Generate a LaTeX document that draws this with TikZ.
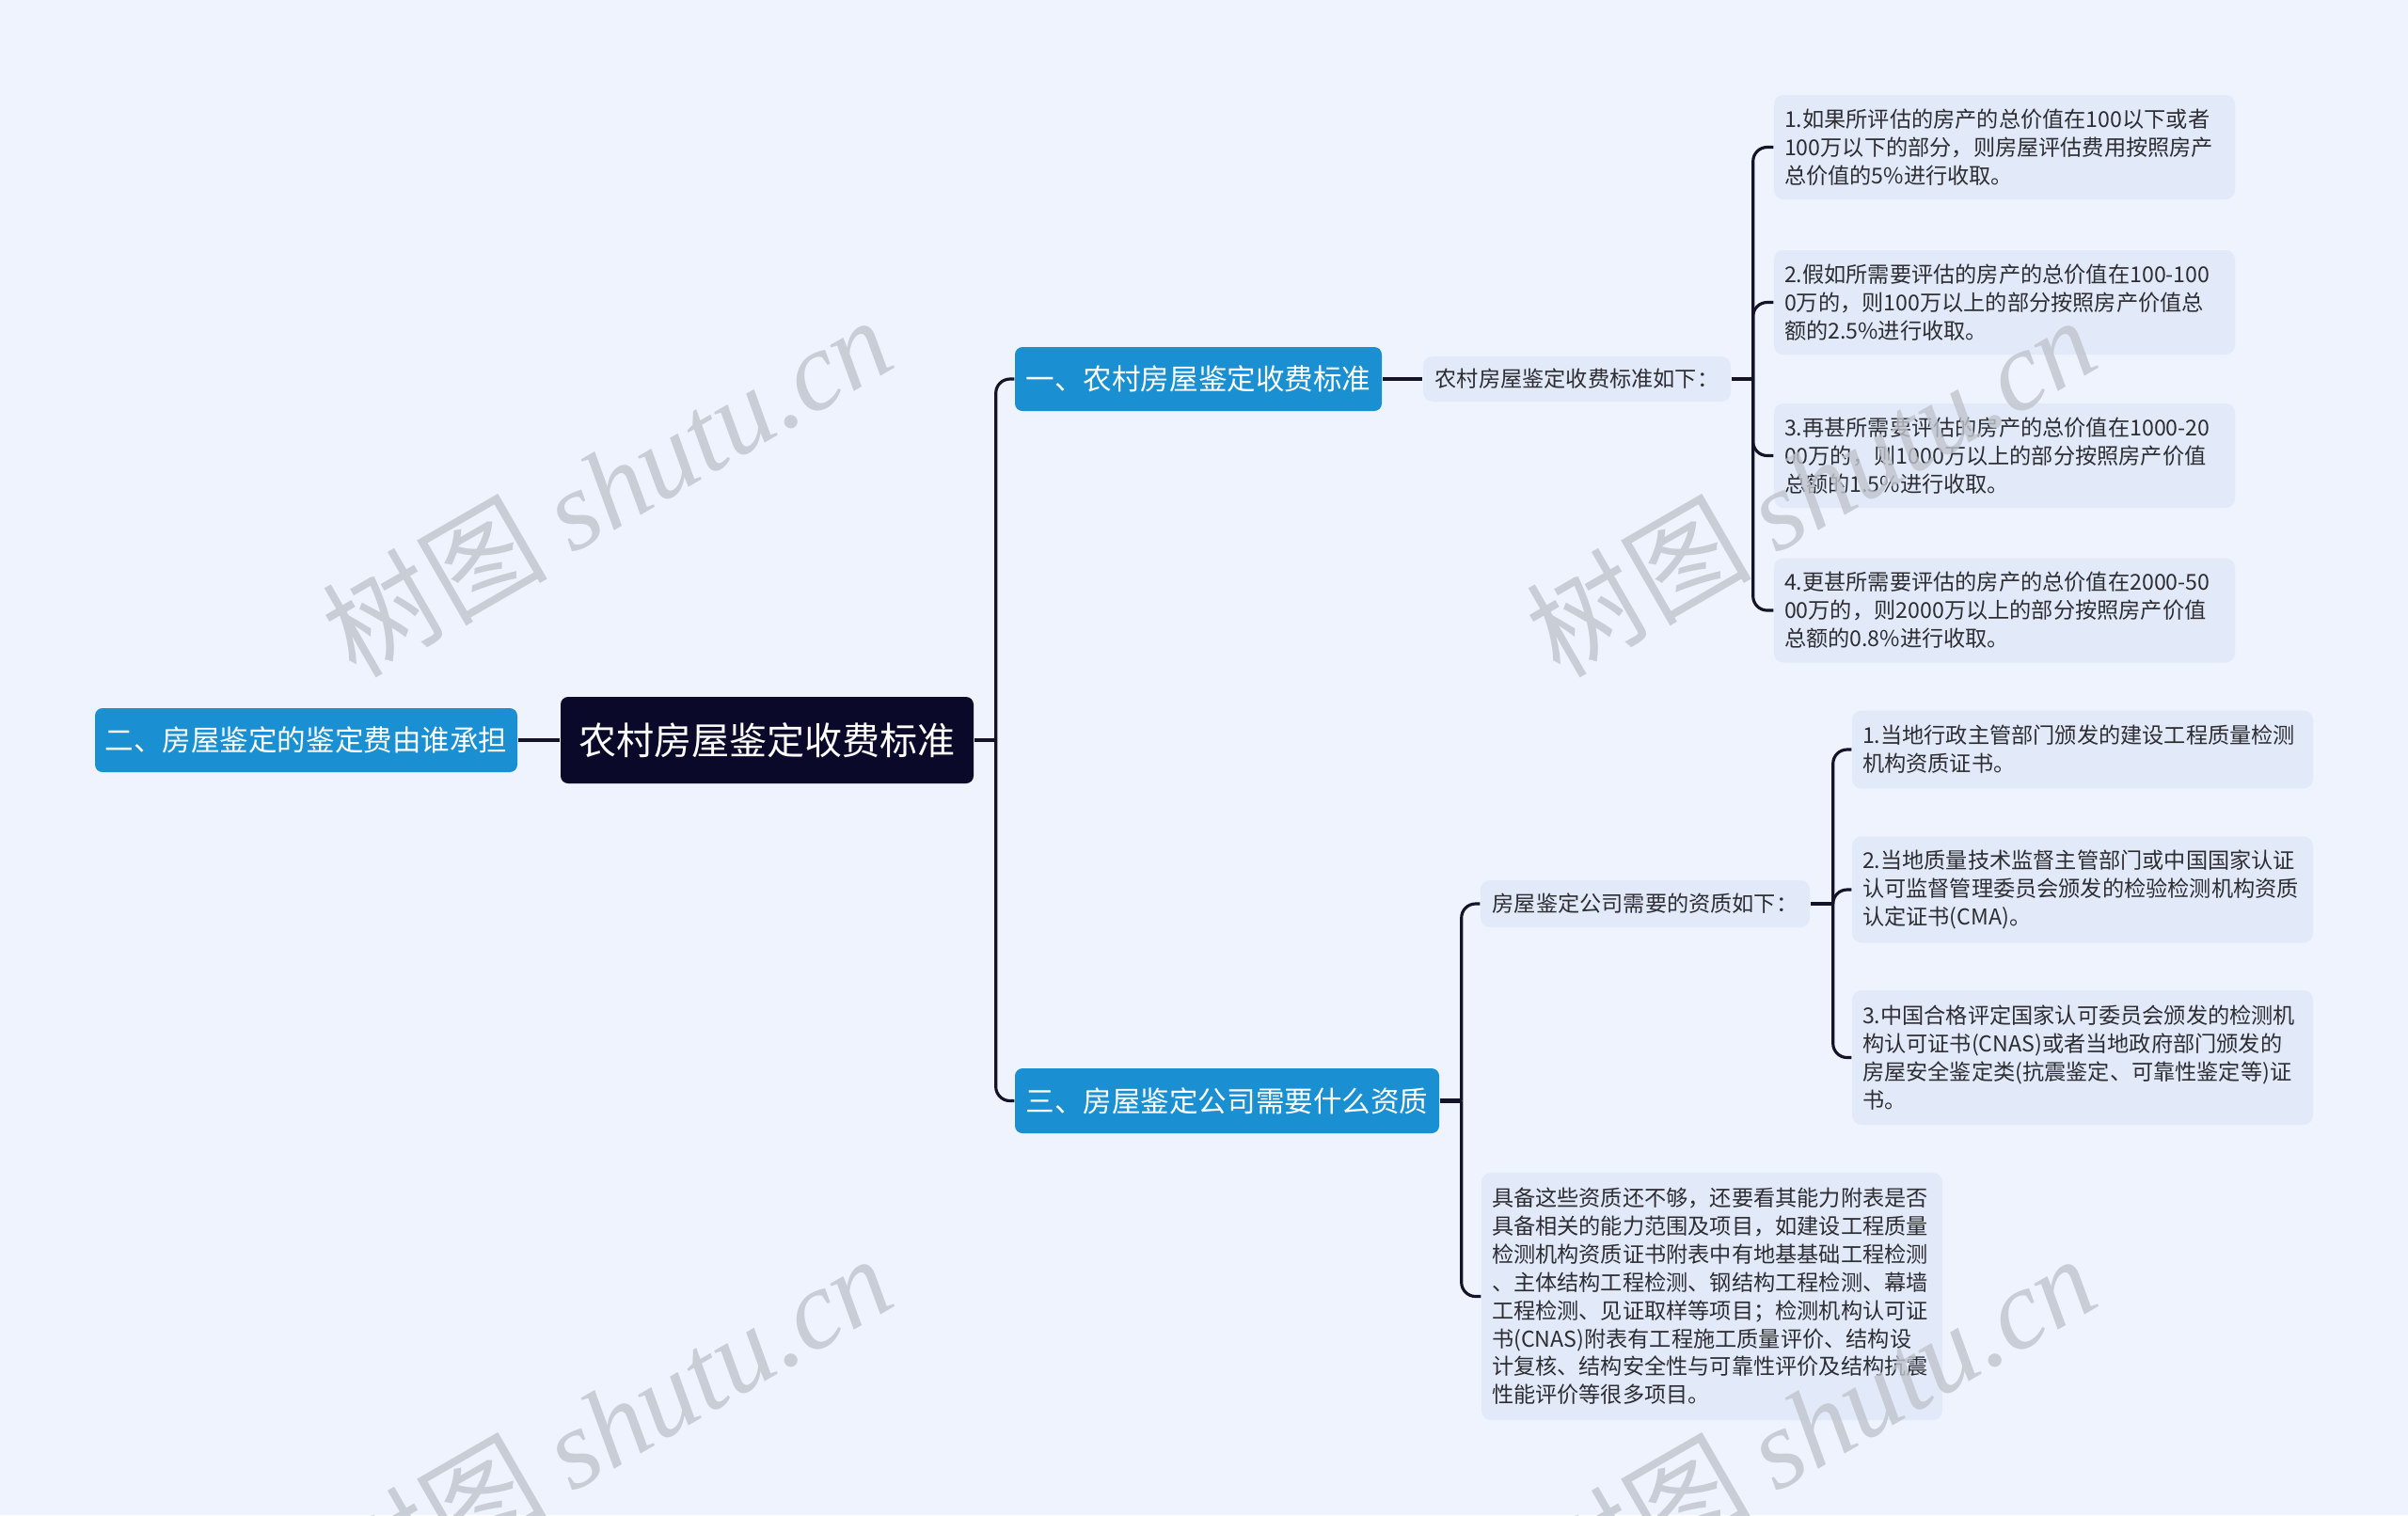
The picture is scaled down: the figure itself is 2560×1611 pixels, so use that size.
\documentclass[tikz,border=0pt]{standalone}
\usepackage{fontspec}
\setmainfont{Noto Sans CJK SC}
\newfontfamily\wmfont{Liberation Serif}
\usepackage{tikz}
\usetikzlibrary{calc}
\definecolor{fondo}{RGB}{238,243,253}
\definecolor{hoja}{RGB}{226,234,250}
\definecolor{azul}{RGB}{26,143,210}
\definecolor{marino}{RGB}{11,9,42}
\definecolor{linea}{RGB}{20,20,40}
\definecolor{texto}{RGB}{45,45,50}
\definecolor{marca}{RGB}{192,196,205}

\begin{document}
\begin{tikzpicture}[x=0.1mm, y=-0.1mm, every node/.style={inner sep=0pt, align=center},
  root/.style={fill=marino, text=white, rounded corners=0.8mm, minimum width=43.9mm, minimum height=9.2mm, font=\fontsize{11.4}{13}\selectfont},
  topic/.style={fill=azul, text=white, rounded corners=0.8mm, minimum height=6.8mm, font=\fontsize{8.7}{11}\selectfont},
  sub/.style={fill=hoja, text=texto, rounded corners=1mm, font=\fontsize{6.6}{8.5}\selectfont},
  leaf/.style={sub, align=left, text width=46.8mm, inner xsep=1.1mm},
  stub/.style={draw=linea, line width=1.3pt},
  link/.style={draw=linea, line width=0.9pt, rounded corners=1.5mm},
  wm/.style={text=marca, text opacity=0.8, rotate=30, font=\fontsize{34}{40}\selectfont}]
\useasboundingbox (0,0) rectangle (2560,1611);
\clip (0,0) rectangle (2560,1611);
\fill[fondo] (0,0) rectangle (2560,1611);

% central and first level
\node[root] (root) at (815.5,787) {农村房屋鉴定收费标准};
\node[topic, minimum width=44.9mm] (two) at (325.5,787) {二、房屋鉴定的鉴定费由谁承担};
\node[topic, minimum width=39mm] (one) at (1274,403) {一、农村房屋鉴定收费标准};
\node[topic, minimum width=45.1mm, minimum height=6.9mm] (three) at (1304.5,1170.5) {三、房屋鉴定公司需要什么资质};

% branch one
\node[sub, minimum width=32.7mm, minimum height=4.8mm] (sub1) at (1676.5,403) {农村房屋鉴定收费标准如下：};
\node[leaf, minimum height=11.1mm] (a1) at (2131,156.5) {1.如果所评估的房产的总价值在100以下或者\\100万以下的部分，则房屋评估费用按照房产\\总价值的5\%进行收取。};
\node[leaf, minimum height=11.1mm] (a2) at (2131,321.5) {2.假如所需要评估的房产的总价值在100-100\\0万的，则100万以上的部分按照房产价值总\\额的2.5\%进行收取。};
\node[leaf, minimum height=11.1mm] (a3) at (2131,484.5) {3.再甚所需要评估的房产的总价值在1000-20\\00万的，则1000万以上的部分按照房产价值\\总额的1.5\%进行收取。};
\node[leaf, minimum height=11.1mm] (a4) at (2131,649) {4.更甚所需要评估的房产的总价值在2000-50\\00万的，则2000万以上的部分按照房产价值\\总额的0.8\%进行收取。};

% branch three
\node[sub, minimum width=35mm, minimum height=5mm] (sub2) at (1749,961) {房屋鉴定公司需要的资质如下：};
\node[leaf, minimum height=26.3mm] (sub3) at (1820,1378.5) {具备这些资质还不够，还要看其能力附表是否\\具备相关的能力范围及项目，如建设工程质量\\检测机构资质证书附表中有地基基础工程检测\\、主体结构工程检测、钢结构工程检测、幕墙\\工程检测、见证取样等项目；检测机构认可证\\书(CNAS)附表有工程施工质量评价、结构设\\计复核、结构安全性与可靠性评价及结构抗震\\性能评价等很多项目。};
\node[leaf, minimum height=8.3mm] (c1) at (2214,797) {1.当地行政主管部门颁发的建设工程质量检测\\机构资质证书。};
\node[leaf, minimum height=11.3mm] (c2) at (2214,946) {2.当地质量技术监督主管部门或中国国家认证\\认可监督管理委员会颁发的检验检测机构资质\\认定证书(CMA)。};
\node[leaf, minimum height=14.3mm] (c3) at (2214,1124.5) {3.中国合格评定国家认可委员会颁发的检测机\\构认可证书(CNAS)或者当地政府部门颁发的\\房屋安全鉴定类(抗震鉴定、可靠性鉴定等)证\\书。};

% connectors
\coordinate (hubA) at ([xshift=2.3mm]root.east);
\coordinate (hubB) at ([xshift=2.3mm]sub1.east);
\coordinate (hubC) at ([xshift=2.3mm]three.east);
\coordinate (hubD) at ([xshift=2.4mm]sub2.east);
\draw[stub] (two.east) -- (root.west);
\draw[stub] (root.east) -- (hubA);
\draw[link] (hubA) |- (one.west);
\draw[link] (hubA) |- (three.west);
\draw[stub] (one.east) -- (sub1.west);
\draw[stub] (sub1.east) -- (hubB);
\foreach \n in {a1,a2,a3,a4}
  \draw[link] (hubB) |- (\n.west);
\draw[stub] (three.east) -- (hubC);
\draw[link] (hubC) |- (sub2.west);
\draw[link] (hubC) |- (sub3.west);
\draw[stub] (sub2.east) -- (hubD);
\foreach \n in {c1,c2,c3}
  \draw[link] (hubD) |- (\n.west);

% watermarks
\foreach \p/\q in {645/516, 1925/516, 645/1514, 1925/1514}
  \node[wm] at (\p,\q) {树图 {\wmfont\itshape shutu.cn}};
\end{tikzpicture}
\end{document}
